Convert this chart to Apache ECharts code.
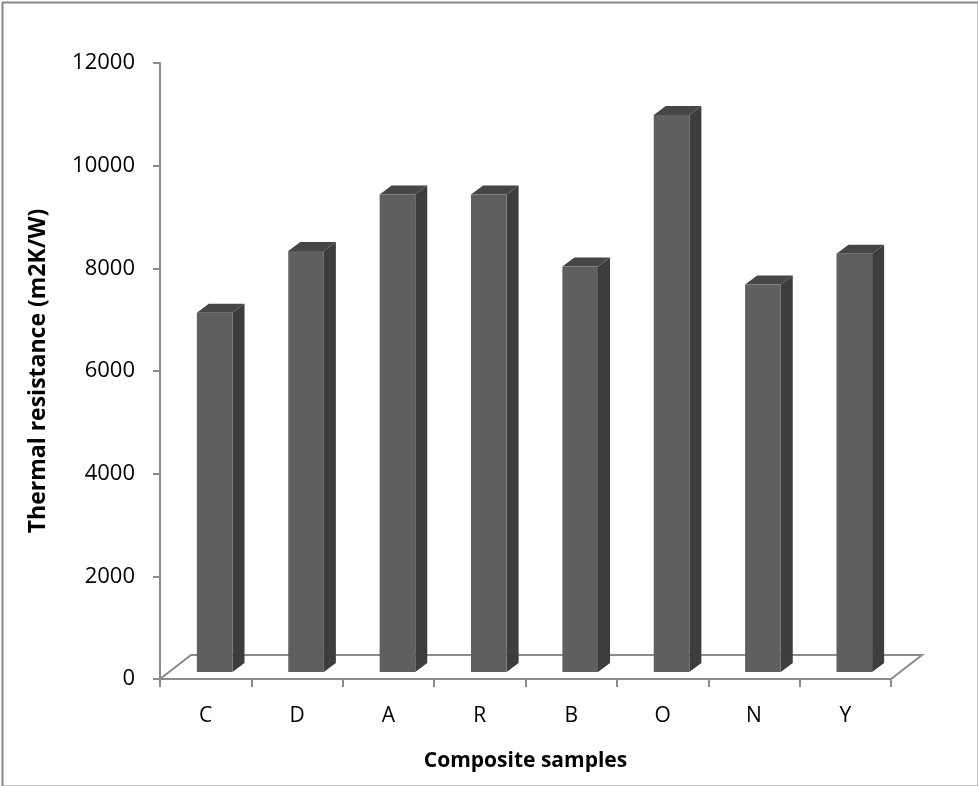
<!DOCTYPE html>
<html>
<head>
<meta charset="utf-8">
<script src="https://cdn.jsdelivr.net/npm/echarts@6/dist/echarts.min.js"></script>
<style>
  html, body { margin: 0; padding: 0; background: #fff; }
  #chart { width: 978px; height: 786px; }
</style>
</head>
<body>
<div id="chart"></div>
<script>
// Thermal resistance of each composite sample
const categories = ['C', 'D', 'A', 'R', 'B', 'O', 'N', 'Y'];
const resistance = [7000, 8200, 9300, 9300, 7900, 10850, 7550, 8150];
const yTicks = { min: 0, max: 12000, interval: 2000 };

const FONT = '"Open Sans", "Liberation Sans", sans-serif';
const AXIS_GRAY = '#8c8c8c';

// 3D look: offsets of the box depth and of the floor depth (pixels)
const BOX_DX = 12, BOX_DY = -9;
const BAR_SHIFT_X = 9, BAR_SHIFT_Y = -7;
const FLOOR_DX = 31, FLOOR_DY = -24;

function renderFloor(params, api) {
  const cs = params.coordSys;
  const x0 = cs.x, x1 = cs.x + cs.width, y0 = cs.y + cs.height;
  return {
    type: 'polygon',
    shape: { points: [[x0, y0], [x1, y0], [x1 + FLOOR_DX, y0 + FLOOR_DY], [x0 + FLOOR_DX, y0 + FLOOR_DY]] },
    style: { fill: '#ffffff', stroke: AXIS_GRAY, lineWidth: 2 },
    silent: true
  };
}

function renderBox(params, api) {
  const idx = api.value(0);
  const val = api.value(1);
  const base = api.coord([idx, 0]);
  const top = api.coord([idx, val]);
  const band = api.size([1, 0])[0];
  const w = band * 0.39;
  const cx = base[0] + BAR_SHIFT_X;
  const xl = cx - w / 2, xr = cx + w / 2;
  const yb = base[1] + BAR_SHIFT_Y;
  const yt = top[1] + BAR_SHIFT_Y;
  return {
    type: 'group',
    children: [
      { type: 'polygon', shape: { points: [[xr, yb], [xr + BOX_DX, yb + BOX_DY], [xr + BOX_DX, yt + BOX_DY], [xr, yt]] },
        style: { fill: '#3d3d3d' } },
      { type: 'polygon', shape: { points: [[xl, yt], [xl + BOX_DX, yt + BOX_DY], [xr + BOX_DX, yt + BOX_DY], [xr, yt]] },
        style: { fill: '#464646' } },
      { type: 'rect', shape: { x: xl, y: yt, width: w, height: yb - yt },
        style: { fill: '#5f5f5f' } }
    ]
  };
}

const chart = echarts.init(document.getElementById('chart'), null, { renderer: 'canvas' });
chart.setOption({
  animation: false,
  backgroundColor: '#ffffff',
  graphic: [{
    type: 'rect', left: 0, top: 0, z: 100, silent: true,
    shape: { x: 1, y: 1, width: 976, height: 784 },
    style: { fill: 'none', stroke: '#868686', lineWidth: 2 }
  }],
  grid: { left: 160, right: 87, top: 63, bottom: 107 },
  xAxis: {
    type: 'category',
    data: categories,
    boundaryGap: true,
    name: 'Composite samples',
    nameLocation: 'middle',
    nameGap: 72,
    nameTextStyle: { fontFamily: FONT, fontSize: 21, fontWeight: 'bold', color: '#000', verticalAlign: 'top' },
    axisLine: { show: false },
    axisTick: { show: true, alignWithLabel: false, length: 8, lineStyle: { color: AXIS_GRAY, width: 2 } },
    axisLabel: { fontFamily: FONT, fontSize: 21, color: '#000', margin: 27 },
    splitLine: { show: false }
  },
  yAxis: {
    type: 'value',
    min: yTicks.min, max: yTicks.max, interval: yTicks.interval,
    name: 'Thermal resistance (m2K/W)',
    nameLocation: 'middle',
    nameGap: 110,
    nameTextStyle: { fontFamily: FONT, fontSize: 23, fontWeight: 'bold', color: '#000' },
    axisLine: { show: true, lineStyle: { color: AXIS_GRAY, width: 2 } },
    axisTick: { show: true, length: 7, lineStyle: { color: AXIS_GRAY, width: 2 } },
    axisLabel: { fontFamily: FONT, fontSize: 22, color: '#000', margin: 25, formatter: v => String(v) },
    splitLine: { show: false }
  },
  series: [
    {
      type: 'custom',
      name: 'floor',
      renderItem: renderFloor,
      data: [[0, 0]],
      z: 1,
      silent: true
    },
    {
      type: 'custom',
      name: 'Thermal resistance',
      renderItem: renderBox,
      encode: { x: 0, y: 1 },
      data: resistance.map((v, i) => [i, v]),
      z: 2
    }
  ]
});
</script>
</body>
</html>
